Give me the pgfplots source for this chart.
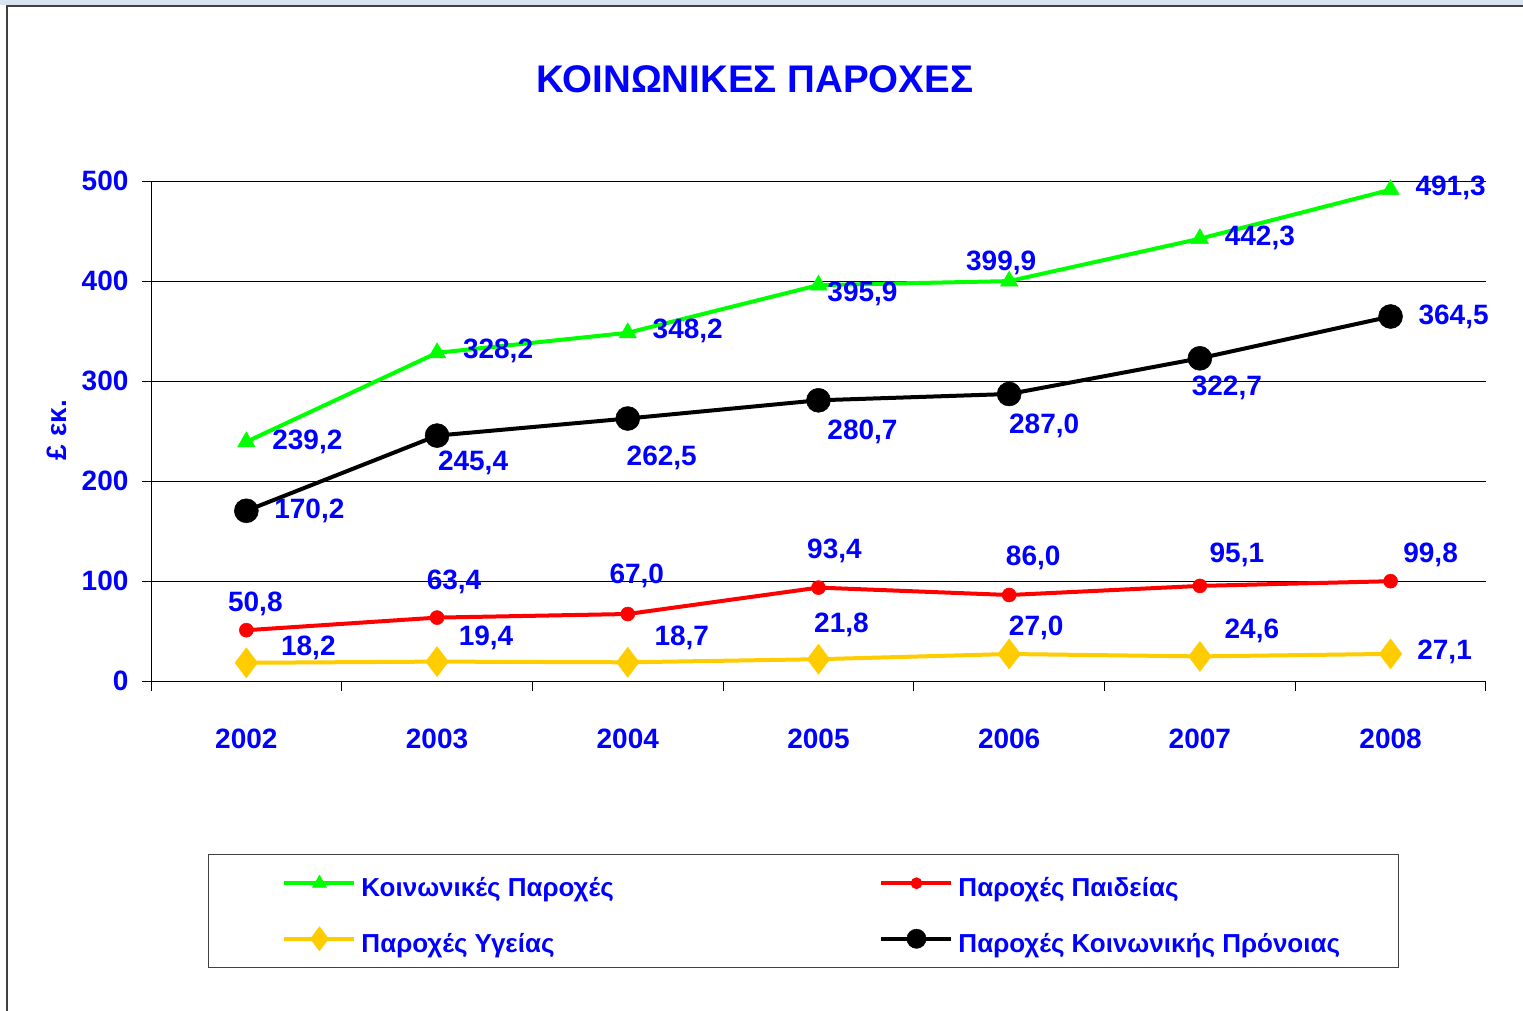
\documentclass[border=0pt]{standalone}
\usepackage{pgfplots}
\pgfplotsset{compat=1.18}
\usepackage{pgfplotstable}
\usepackage{fontspec}
\setmainfont{Liberation Sans}

\definecolor{lblue}{HTML}{0000FF}
\definecolor{cgreen}{HTML}{00FF00}
\definecolor{cred}{HTML}{FF0000}
\definecolor{cyellow}{HTML}{FFCC00}
\definecolor{framegray}{HTML}{404040}
\definecolor{stripblue}{HTML}{D8E3EF}

\newcommand\lblfont{\bfseries\fontsize{28}{30}\selectfont}
\newcommand\legfont{\bfseries\fontsize{26}{28}\selectfont}
\newcommand\legcell[2]{\makebox[#1][l]{\rule[-8pt]{0pt}{36pt}#2}}

% x = year index, dx/dy = label offset from the point
\pgfplotstableread{
x y lab dx dy
0 239.2 239,2 61 0
1 328.2 328,2 61 2
2 348.2 348,2 60 2
3 395.9 395,9 44 -9
4 399.9 399,9 -8 18
5 442.3 442,3 60 1
6 491.3 491,3 60 2
}\koin
\pgfplotstableread{
x y lab dx dy
0 50.8 50,8 9 26
1 63.4 63,4 17 36
2 67.0 67,0 9 38
3 93.4 93,4 16 37
4 86.0 86,0 24 37
5 95.1 95,1 37 31
6 99.8 99,8 40 26
}\paid
\pgfplotstableread{
x y lab dx dy
0 18.2 18,2 62 15
1 19.4 19,4 49 24
2 18.7 18,7 54 24
3 21.8 21,8 23 34
4 27.0 27,0 27 26
5 24.6 24,6 52 26
6 27.1 27,1 54 2
}\ygeia
\pgfplotstableread{
x y lab dx dy
0 170.2 170,2 63 0
1 245.4 245,4 36 -27
2 262.5 262,5 34 -39
3 280.7 280,7 44 -32
4 287.0 287,0 35 -32
5 322.7 322,7 27 -30
6 364.5 364,5 63 0
}\pronoia

\begin{document}
\begin{tikzpicture}
\path[use as bounding box, fill=white] (0pt,0pt) rectangle (1523pt,-1011pt);
\fill[stripblue] (0pt,0pt) rectangle (1523pt,-5pt);
\draw[framegray, line width=2pt] (7pt,-1011pt) -- (7pt,-6pt) -- (1523pt,-6pt);

\begin{axis}[
    at={(151pt,-681pt)}, anchor=south west,
    scale only axis, width=1335pt, height=500pt,
    xmin=-0.5, xmax=6.5, ymin=0, ymax=500,
    clip=false,
    axis x line*=bottom, axis y line*=left,
    axis line style={black, line width=1pt},
    xtick={0,...,6},
    xticklabels={2002,2003,2004,2005,2006,2007,2008},
    minor xtick={-0.5,0.5,...,6.5},
    ytick={0,100,...,500},
    tick align=outside,
    major tick length=9pt, minor tick length=10pt,
    every tick/.style={black, line width=1pt},
    every major x tick/.append style={draw=none},
    ymajorgrids,
    major grid style={black, line width=1pt},
    /pgf/number format/assume math mode=true,
    every tick label/.append style={font=\lblfont, text=lblue},
    xticklabel style={anchor=center, yshift=-49pt},
    yticklabel style={anchor=east, xshift=-10pt},
    title={ΚΟΙΝΩΝΙΚΕΣ ΠΑΡΟΧΕΣ},
    title style={at={(axis description cs:0.4524,1.192)}, anchor=center,
        font=\bfseries\fontsize{38.5}{40}\selectfont, text=lblue},
    ylabel={£ εκ.},
    ylabel style={at={(axis description cs:-0.0704,0.502)}, anchor=center,
        font=\lblfont, text=lblue},
    nodes near coords,
    point meta=explicit symbolic,
    visualization depends on={\thisrow{dx} \as \dx},
    visualization depends on={\thisrow{dy} \as \dy},
    every node near coord/.append style={anchor=center, font=\lblfont,
        text=lblue, xshift=\dx pt, yshift=\dy pt},
    legend columns=2,
    legend cell align=left,
    legend style={at={(axis description cs:0.0427,-0.346)}, anchor=north west,
        draw=framegray, line width=1pt, inner xsep=74pt, inner ysep=14pt,
        row sep=26pt, font=\legfont, text=lblue,
        nodes={inner sep=0pt},
        /tikz/every odd column/.style={column sep=5pt},
        /tikz/every even column/.style={column sep=0pt}},
    legend image code/.code={\draw[mark repeat=2, mark phase=2, #1,
        every mark/.append style={scale=0.8}]
        plot coordinates {(0pt,0pt) (35pt,0pt) (70pt,0pt)};},
]
\addplot[cgreen, line width=4pt, mark=triangle*, mark size=10pt,
    mark options={solid, fill=cgreen, draw=cgreen, line width=0.5pt}]
    table[x=x, y=y, meta=lab] {\koin};
\addlegendentry{\legcell{518pt}{Κοινωνικές Παροχές}}
\addplot[cred, line width=4pt, mark=*, mark size=7pt,
    mark options={solid, fill=cred, draw=cred, line width=0.5pt}]
    table[x=x, y=y, meta=lab] {\paid};
\addlegendentry{\legcell{366pt}{Παροχές Παιδείας}}
\addplot[cyellow, line width=4pt, mark=diamond*, mark size=15pt,
    mark options={solid, fill=cyellow, draw=cyellow, line width=0.5pt}]
    table[x=x, y=y, meta=lab] {\ygeia};
\addlegendentry{\legcell{518pt}{Παροχές Υγείας}}
\addplot[black, line width=4pt, mark=*, mark size=12pt,
    mark options={solid, fill=black, draw=black, line width=0.5pt}]
    table[x=x, y=y, meta=lab] {\pronoia};
\addlegendentry{\legcell{366pt}{Παροχές Κοινωνικής Πρόνοιας}}
\end{axis}
\end{tikzpicture}
\end{document}
